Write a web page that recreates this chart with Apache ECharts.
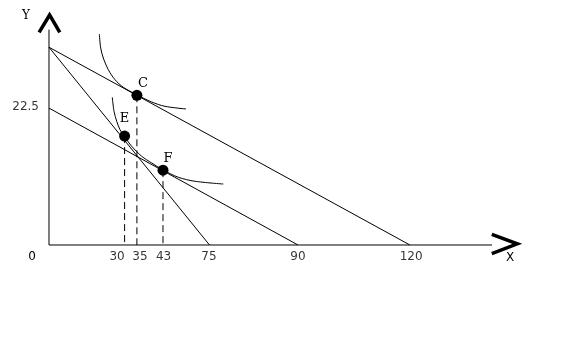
<!DOCTYPE html>
<html><head><meta charset="utf-8">
<script src="https://cdn.jsdelivr.net/npm/echarts@6/dist/echarts.min.js"></script>
<style>html,body{margin:0;padding:0;background:#fff}#c{width:562px;height:359px}</style>
</head><body><div id="c"></div>
<script>
// Budget lines (intercepts, in diagram units)
const budgetC = [[0, 32.5], [120.3, 0]];
const budgetE = [[0, 32.5], [53.5, 0]];
const budgetF = [[0, 22.5], [83, 0]];
// Indifference curves
const curveHigh = [[16.77, 34.68], [17.23, 32.37], [18.1, 30.73], [19.77, 28.81], [22.0, 27.16], [24.77, 25.92], [29.23, 24.70], [34.23, 23.50], [38.67, 22.79], [45.67, 22.35]];
const curveLow = [[21.1, 24.27], [21.67, 21.97], [22.57, 20.33], [23.67, 18.95], [25.1, 17.86], [27.57, 16.22], [30.9, 14.58], [34.23, 13.48], [37.9, 12.37], [43.1, 11.13], [48.67, 10.47], [58.1, 10.02]];
// Equilibrium points
const pointNames = ['C', 'E', 'F'];
const pointX = [29.3, 25.2, 38];
const pointY = [24.6, 17.9, 12.3];
// Tick labels
const xTickLabels = ['30', '35', '43', '75', '90', '120'];
const xTickAt = [22.7, 30.3, 38.2, 53.3, 83, 120.7];
const yTickLabels = ['22.5'];
const yTickAt = [22.5];
// Visible extent of the whole canvas in diagram units
const xMin = -16.333, xMax = 171, yMin = -18.735, yMax = 40.263;

const chart = echarts.init(document.getElementById('c'), null, {renderer: 'canvas'});
const black = '#000';
const thin = {color: black, width: 1};
const numFont = {color: black, fontFamily: 'DejaVu Sans', fontSize: 12};
function lineSeries(data, style, extra) {
  return Object.assign({type: 'line', data: data, symbol: 'none', clip: false, silent: true,
    animation: false, lineStyle: style, z: 2}, extra || {});
}
const offsets = {C: [6, -12], E: [0, -17], F: [5, -12]};
const series = [
  lineSeries([[0, 0], [147.7, 0]], thin),
  lineSeries([[0, 0], [0, 35.4]], thin),
  lineSeries([[-3.3, 34.95], [0.2, 37.8], [3.6, 34.95]], {color: black, width: 3.5, join: 'miter'}),
  lineSeries([[147.6, 1.75], [156.1, 0.2], [147.6, -1.4]], {color: black, width: 3.5, join: 'miter'}),
  lineSeries(budgetC, thin),
  lineSeries(budgetE, thin),
  lineSeries(budgetF, thin),
  lineSeries(curveHigh, thin, {smooth: 0.3}),
  lineSeries(curveLow, thin, {smooth: 0.3})
];
pointNames.forEach(function (n, i) {
  series.push(lineSeries([[pointX[i], pointY[i]], [pointX[i], 0]], {color: black, width: 1, type: [7, 4]}));
});
series.push({
  type: 'scatter', animation: false, silent: true, clip: false, z: 5,
  symbolSize: 11, itemStyle: {color: black, opacity: 1},
  data: pointNames.map(function (n, i) {
    return {value: [pointX[i], pointY[i]], name: n,
      label: {show: true, formatter: n, position: 'inside', offset: offsets[n],
        color: black, fontFamily: 'DejaVu Serif', fontSize: 13}};
  })
});
// Axis tick labels
series.push({
  type: 'scatter', animation: false, silent: true, clip: false, z: 5,
  symbolSize: 2, itemStyle: {color: 'rgba(0,0,0,0)'},
  data: xTickAt.map(function (x, i) {
    return {value: [x, 0], label: Object.assign({show: true, formatter: xTickLabels[i], position: 'inside', offset: [0, 12]}, numFont)};
  }).concat(yTickAt.map(function (y, i) {
    return {value: [0, y], label: Object.assign({show: true, formatter: yTickLabels[i], position: 'left', distance: 9, offset: [0, -1]}, numFont)};
  }))
});

chart.setOption({
  backgroundColor: '#fff',
  animation: false,
  grid: {left: 0, top: 0, right: 0, bottom: 0, outerBoundsMode: 'none', containLabel: false},
  xAxis: {type: 'value', min: xMin, max: xMax, show: false, splitLine: {show: false}},
  yAxis: {type: 'value', min: yMin, max: yMax, show: false, splitLine: {show: false}},
  graphic: [
    {type: 'text', x: 26, y: 16, style: {text: 'Y', font: '12px "DejaVu Serif"', fill: black, align: 'center', verticalAlign: 'middle'}},
    {type: 'text', x: 510, y: 258, style: {text: 'X', font: '12px "DejaVu Sans"', fill: black, align: 'center', verticalAlign: 'middle'}},
    {type: 'text', x: 32, y: 257, style: {text: '0', font: '12px "DejaVu Sans"', fill: black, align: 'center', verticalAlign: 'middle'}}
  ],
  series: series
});
</script></body></html>
